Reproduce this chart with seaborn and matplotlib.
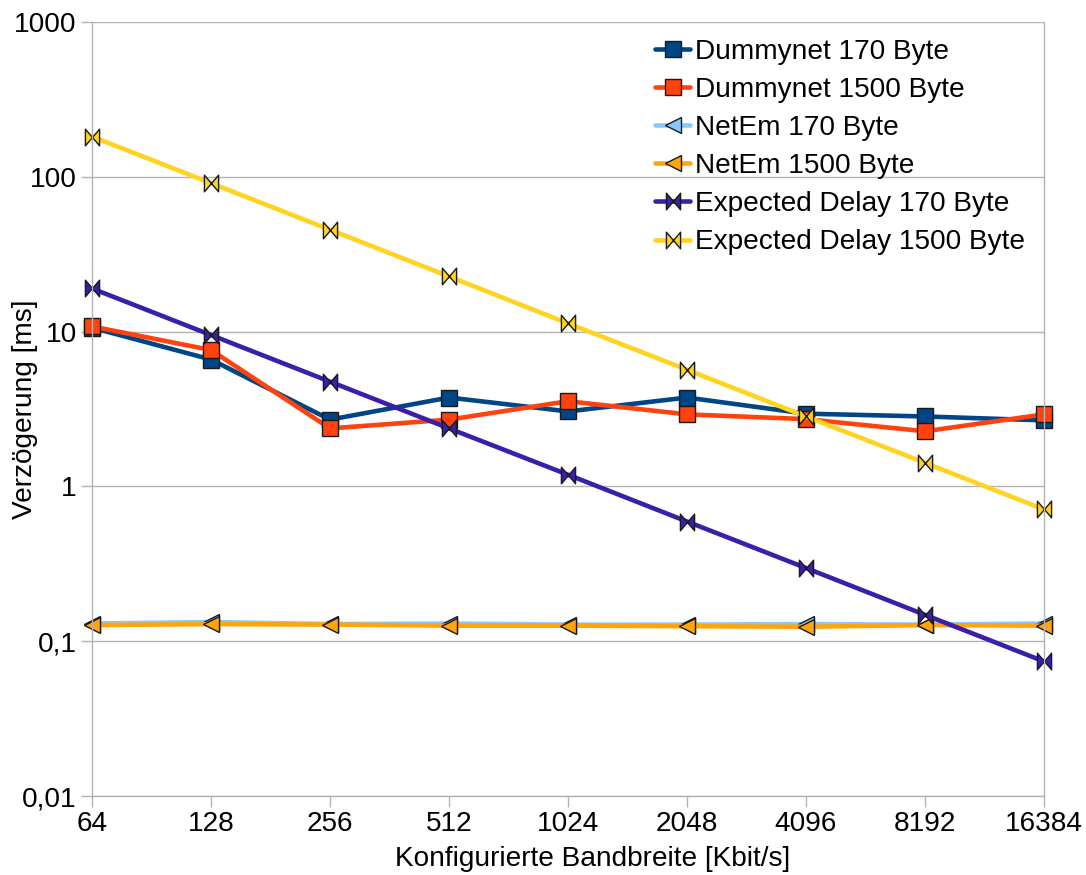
import numpy as np
import pandas as pd
import matplotlib
matplotlib.use("Agg")
import matplotlib.pyplot as plt
from matplotlib.path import Path
import seaborn as sns

bandwidth = ["64", "128", "256", "512", "1024", "2048", "4096", "8192", "16384"]
dummynet_170 = [10.6, 6.6, 2.7, 3.75, 3.05, 3.75, 2.95, 2.83, 2.67]
dummynet_1500 = [10.8, 7.6, 2.37, 2.7, 3.55, 2.92, 2.72, 2.27, 2.92]
netem_170 = [0.130, 0.133, 0.129, 0.130, 0.128, 0.128, 0.129, 0.128, 0.130]
netem_1500 = [0.127, 0.129, 0.128, 0.126, 0.126, 0.125, 0.124, 0.127, 0.126]
expected_170 = [19.0, 9.5, 4.75, 2.37, 1.19, 0.593, 0.297, 0.148, 0.074]
expected_1500 = [182, 91, 45.5, 22.7, 11.3, 5.67, 2.83, 1.42, 0.71]
yticks = [0.01, 0.1, 1, 10, 100, 1000]
ytick_labels = ["0,01", "0,1", "1", "10", "100", "1000"]

bowtie = Path([(-0.85, 1), (-0.85, -1), (0.85, 1), (0.85, -1), (-0.85, 1)],
              [Path.MOVETO, Path.LINETO, Path.LINETO, Path.LINETO, Path.CLOSEPOLY])

series = [
    ("Dummynet 170 Byte", dummynet_170, "#004586", "s"),
    ("Dummynet 1500 Byte", dummynet_1500, "#ff420e", "s"),
    ("NetEm 170 Byte", netem_170, "#83caff", "<"),
    ("NetEm 1500 Byte", netem_1500, "#ffa40a", "<"),
    ("Expected Delay 170 Byte", expected_170, "#3b1fa8", bowtie),
    ("Expected Delay 1500 Byte", expected_1500, "#ffd320", bowtie),
]

sns.set_theme(style="white")
plt.rcParams['font.family'] = ['Liberation Sans', 'DejaVu Sans']
plt.rcParams['text.color'] = 'black'
plt.rcParams['axes.labelcolor'] = 'black'
plt.rcParams['xtick.color'] = 'black'
plt.rcParams['ytick.color'] = 'black'

FS = 20.2

fig = plt.figure(figsize=(10.86, 8.75), dpi=100)
ax = fig.add_axes([92 / 1086, 1 - 796 / 875, (1044 - 92) / 1086, (796 - 22) / 875])

xpos = np.arange(len(bandwidth))
for name, vals, color, marker in series:
    df = pd.DataFrame({"x": xpos, "y": vals})
    ms = 11 if marker == "s" else 12
    sns.lineplot(data=df, x="x", y="y", ax=ax, color=color, linewidth=3.3,
                 marker=marker, markersize=ms, markeredgecolor="#1a1a1a",
                 markeredgewidth=1.0, markerfacecolor=color, label=name,
                 clip_on=False)

ax.set_yscale("log")
ax.set_ylim(0.01, 1000)
ax.set_xlim(0, len(bandwidth) - 1)
ax.set_yticks(yticks)
ax.set_yticklabels(ytick_labels)
ax.yaxis.set_minor_locator(matplotlib.ticker.NullLocator())
ax.set_xticks(xpos)
ax.set_xticklabels(bandwidth)
ax.tick_params(axis="both", which="major", labelsize=FS, length=8, width=1,
               color="#b3b3b3", labelcolor="black", direction="out",
               left=True, bottom=True, pad=3)
ax.grid(axis="y", color="#b3b3b3", linewidth=1)
ax.set_axisbelow(True)
for side in ["left", "right", "top", "bottom"]:
    ax.spines[side].set_color("#b3b3b3")
    ax.spines[side].set_linewidth(1)
ax.spines["top"].set_visible(False)

ax.set_xlabel("Konfigurierte Bandbreite [Kbit/s]", fontsize=FS)
ax.set_ylabel("Verzögerung [ms]", fontsize=FS)
ax.xaxis.label.set_va("center")
ax.yaxis.label.set_va("center")
ax.xaxis.set_label_coords((593 - 92) / 952, (796 - 859) / 774)
ax.yaxis.set_label_coords((25 - 92) / 952, 0.5)

leg = ax.legend(loc="upper left",
                bbox_to_anchor=((655 - 92) / 952, 1 - (39 - 22) / 774),
                frameon=False, fontsize=FS, handlelength=1.25, handletextpad=0.18,
                labelspacing=0.43, borderpad=0, borderaxespad=0)

fig.savefig("out.png", dpi=100)
